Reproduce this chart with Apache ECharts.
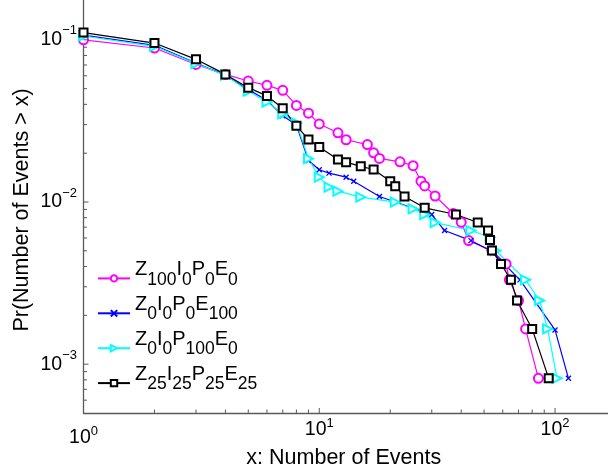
<!DOCTYPE html>
<html>
<head>
<meta charset="utf-8">
<script src="https://cdn.jsdelivr.net/npm/echarts@6/dist/echarts.min.js"></script>
<style>
  html, body { margin: 0; padding: 0; background: #fff; }
  #content { width: 608px; height: 472px; }
</style>
</head>
<body>
<div id="content"></div>
<script>
// 数据
var xMag = [1, 2, 3, 4, 5, 6, 7, 8, 9, 10, 12, 13, 16, 17, 18, 22, 25, 27, 28, 31, 37, 40, 43, 54, 62, 64, 70, 75, 85];
var yMag = [0.100, 0.089, 0.0705, 0.0612, 0.0557, 0.0524, 0.0488, 0.0394, 0.0353, 0.0303, 0.0267, 0.0242, 0.0226, 0.0201, 0.01856, 0.0177, 0.01675, 0.01344, 0.01256, 0.01089, 0.00849, 0.0075, 0.00578, 0.00502, 0.00415, 0.00331, 0.00247, 0.00165, 0.000818];

var xBlu = [1, 2, 3, 4, 5, 6, 7, 8, 9, 10, 11, 13, 14, 18, 30, 34, 44, 54, 71, 100, 114];
var yBlu = [0.107, 0.0925, 0.072, 0.0605, 0.0493, 0.0424, 0.034, 0.0298, 0.01804, 0.0158, 0.01506, 0.01422, 0.01344, 0.01081, 0.00837, 0.00667, 0.00578, 0.00495, 0.00331, 0.001626, 0.000818];

var xCyn = [1, 2, 3, 4, 5, 6, 7, 8, 9, 10, 11, 12, 15, 21, 25, 28, 31, 44, 53, 56, 75, 86, 93, 102];
var yCyn = [0.1056, 0.0912, 0.0713, 0.0605, 0.0483, 0.0413, 0.035, 0.0307, 0.0185, 0.01422, 0.01234, 0.01166, 0.01071, 0.00997, 0.00908, 0.00837, 0.00747, 0.00667, 0.00606, 0.00502, 0.00331, 0.00247, 0.00165, 0.000818];

var xBlk = [1, 2, 3, 4, 5, 6, 7, 8, 9, 10, 12, 13, 15, 17, 20, 21, 23, 28, 38, 47, 52, 53, 54, 59, 65, 69, 80, 94];
var yBlk = [0.1108, 0.0955, 0.0758, 0.0612, 0.0507, 0.0451, 0.0378, 0.0295, 0.0243, 0.0218, 0.0183, 0.0176, 0.0166, 0.01587, 0.01344, 0.01252, 0.01081, 0.00921, 0.00837, 0.00747, 0.00667, 0.00583, 0.00502, 0.00415, 0.00331, 0.00247, 0.00165, 0.000818];

// 图例名字: Z I P E 的下标
var seriesNames = ["Z100I0P0E0", "Z0I0P0E100", "Z0I0P100E0", "Z25I25P25E25"];
var legendSubs = [["100", "0", "0", "0"], ["0", "0", "0", "100"], ["0", "0", "100", "0"], ["25", "25", "25", "25"]];
var legendLetters = ["Z", "I", "P", "E"];

// 坐标范围
var xMin = 1, xMax = 200;
var yMin = 0.0005, yMax = 0.2;

// 刻度 (主刻度 10^n, 小刻度 2..9)
var majorX = [1, 10, 100];
var majorY = [0.001, 0.01, 0.1];
var minorX = [2, 3, 4, 5, 6, 7, 8, 9, 20, 30, 40, 50, 60, 70, 80, 90];
var minorY = [0.0006, 0.0007, 0.0008, 0.0009, 0.002, 0.003, 0.004, 0.005, 0.006, 0.007, 0.008, 0.009,
              0.02, 0.03, 0.04, 0.05, 0.06, 0.07, 0.08, 0.09];

var FONT = "'Liberation Sans', Arial, Helvetica, sans-serif";
var AXIS_COLOR = "#5a5a5a";

function zip(xs, ys) {
    var out = [];
    for (var i = 0; i < xs.length; i++) out.push([xs[i], ys[i]]);
    return out;
}

// 10^n 的标签
function powLabel(v, big) {
    var e = Math.log10(v);
    var r = Math.round(e);
    if (Math.abs(e - r) > 1e-6) return "";
    var exp = (r < 0 ? "\u2212" + (-r) : "" + r);
    if (big) return "{b0|10}{s0|" + exp + "}";
    return "{b|10}{s|" + exp + "}";
}

// 刻度用 custom series 画 (通过坐标轴换算位置)
function tickSeries(data, dir, len) {
    return {
        type: "custom",
        coordinateSystem: "cartesian2d",
        silent: true,
        clip: false,
        z: 5,
        data: data,
        renderItem: function(params, api) {
            var p = api.coord([api.value(0), api.value(1)]);
            var shape = dir === "x" ?
                { x1: p[0], y1: p[1], x2: p[0], y2: p[1] - len } :
                { x1: p[0], y1: p[1], x2: p[0] + len, y2: p[1] };
            return { type: "line", shape: shape, style: { stroke: AXIS_COLOR, lineWidth: 1 } };
        }
    };
}

window.onload = function() {
    var myChart = echarts.init(document.getElementById("content"), null, { renderer: "canvas" });

    var symX = "path://M0,0L10,10M10,0L0,10";

    myChart.setOption({
        animation: false,
        backgroundColor: "#fff",
        textStyle: { fontFamily: FONT },
        grid: {
            left: 83.5, right: -18, top: -9, bottom: 59,
            containLabel: false, outerBoundsMode: "none"
        },
        legend: {
            orient: "vertical",
            left: 97,
            top: 259.7,
            padding: 0,
            itemWidth: 32,
            itemHeight: 8,
            itemGap: 0.2,
            data: seriesNames,
            formatter: function(name) {
                var k = seriesNames.indexOf(name);
                var s = "";
                for (var i = 0; i < 4; i++) {
                    s += "{m|" + legendLetters[i] + "}{u|" + legendSubs[k][i] + "}";
                }
                return s;
            },
            textStyle: {
                fontFamily: FONT,
                rich: {
                    m: { fontSize: 20, lineHeight: 32, height: 14.6, verticalAlign: "top", color: "#000", fontFamily: FONT },
                    u: { fontSize: 17.5, lineHeight: 32, height: 29.4, verticalAlign: "bottom", color: "#000", fontFamily: FONT }
                }
            }
        },
        xAxis: {
            type: "log",
            logBase: 10,
            min: xMin,
            max: xMax,
            position: "bottom",
            axisLine: { lineStyle: { color: AXIS_COLOR, width: 1.3 } },
            axisTick: { show: false },
            splitLine: { show: false },
            axisLabel: {
                margin: 1.5,
                formatter: function(v) { return powLabel(v, Math.abs(v - 1) < 1e-9); },
                rich: {
                    b: { fontSize: 19.5, lineHeight: 30, verticalAlign: "middle", color: "#000", fontFamily: FONT },
                    s: { fontSize: 13, lineHeight: 30, height: 18, verticalAlign: "top", color: "#000", fontFamily: FONT },
                    b0: { fontSize: 19.5, lineHeight: 46, verticalAlign: "middle", color: "#000", fontFamily: FONT },
                    s0: { fontSize: 13, lineHeight: 46, height: 34, verticalAlign: "top", color: "#000", fontFamily: FONT }
                }
            },
            name: "x: Number of Events",
            nameLocation: "middle",
            nameGap: 45,
            nameMoveOverlap: false,
            nameTextStyle: {
                fontSize: 21.5, color: "#000", fontFamily: FONT,
                verticalAlign: "middle", lineHeight: 22, padding: [0, 22, 0, 0]
            }
        },
        yAxis: {
            type: "log",
            logBase: 10,
            min: yMin,
            max: yMax,
            position: "left",
            axisLine: { lineStyle: { color: AXIS_COLOR, width: 1.3 } },
            axisTick: { show: false },
            splitLine: { show: false },
            axisLabel: {
                margin: 6.5,
                formatter: function(v) { return powLabel(v, false); },
                rich: {
                    b: { fontSize: 19.5, lineHeight: 30, verticalAlign: "middle", color: "#000", fontFamily: FONT },
                    s: { fontSize: 13, lineHeight: 30, height: 12, verticalAlign: "top", color: "#000", fontFamily: FONT }
                }
            },
            name: "Pr(Number of Events > x)",
            nameLocation: "middle",
            nameGap: 61,
            nameMoveOverlap: false,
            nameTextStyle: {
                fontSize: 21.5, color: "#000", fontFamily: FONT,
                verticalAlign: "middle", lineHeight: 22, padding: [0, 16, 0, 0]
            }
        },
        series: [{
            name: seriesNames[0],
            type: "line",
            data: zip(xMag, yMag),
            symbol: "emptyCircle",
            symbolSize: 9,
            lineStyle: { color: "#ff00ff", width: 1.2 },
            itemStyle: { color: "#ff00ff", borderColor: "#ff00ff", borderWidth: 1.2 }
        }, {
            name: seriesNames[1],
            type: "line",
            data: zip(xBlu, yBlu),
            symbol: symX,
            symbolSize: 5,
            lineStyle: { color: "#0000ff", width: 1.2 },
            itemStyle: { color: "#0000ff", borderColor: "#0000ff", borderWidth: 1.3 }
        }, {
            name: seriesNames[2],
            type: "line",
            data: zip(xCyn, yCyn),
            symbol: "emptyTriangle",
            symbolRotate: -90,
            symbolSize: 9,
            lineStyle: { color: "#00ffff", width: 1.2 },
            itemStyle: { color: "#00ffff", borderColor: "#00ffff", borderWidth: 1.2 }
        }, {
            name: seriesNames[3],
            type: "line",
            data: zip(xBlk, yBlk),
            symbol: "emptyRect",
            symbolSize: 8,
            lineStyle: { color: "#000000", width: 1.2 },
            itemStyle: { color: "#000000", borderColor: "#000000", borderWidth: 1.2 }
        },
        tickSeries(majorX.map(function(v) { return [v, yMin]; }), "x", 5),
        tickSeries(majorY.map(function(v) { return [xMin, v]; }), "y", 5),
        tickSeries(minorX.map(function(v) { return [v, yMin]; }), "x", 3.5),
        tickSeries(minorY.map(function(v) { return [xMin, v]; }), "y", 3.5)]
    });
};
</script>
</body>
</html>
